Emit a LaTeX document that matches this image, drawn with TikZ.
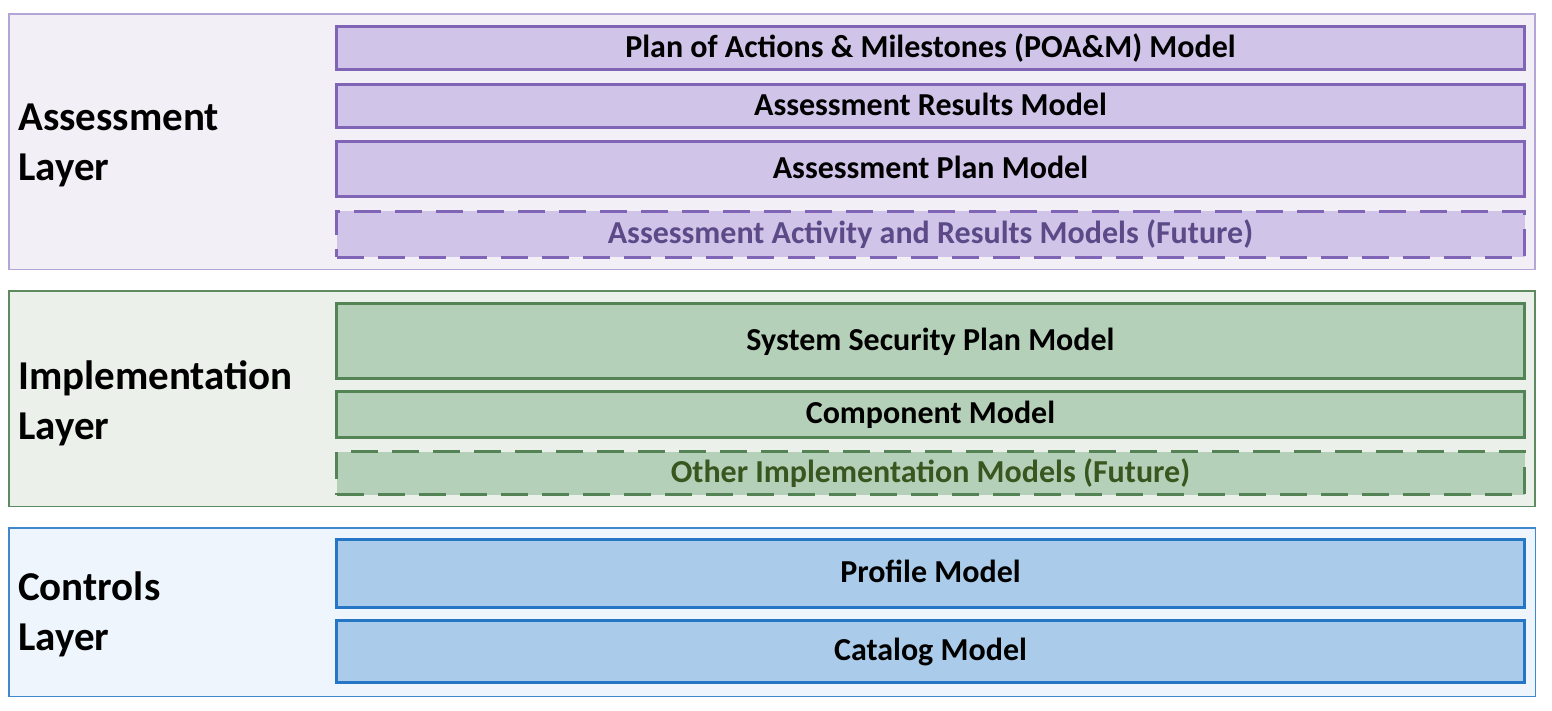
\documentclass[tikz,border=0pt]{standalone}
\usepackage{fontspec}
\setmainfont{Carlito}
\begin{document}
\definecolor{asmBg}{HTML}{F3EFF7}
\definecolor{asmLine}{HTML}{B3A6D6}
\definecolor{asmFill}{HTML}{D0C4E8}
\definecolor{asmDraw}{HTML}{8064B6}
\definecolor{asmFut}{HTML}{5C4A88}
\definecolor{impBg}{HTML}{EBF1EA}
\definecolor{impLine}{HTML}{5E8A62}
\definecolor{impFill}{HTML}{B5D0B8}
\definecolor{impDraw}{HTML}{548356}
\definecolor{impFut}{HTML}{38561F}
\definecolor{ctlBg}{HTML}{EEF5FC}
\definecolor{ctlLine}{HTML}{3F88CC}
\definecolor{ctlFill}{HTML}{AACCEA}
\definecolor{ctlDraw}{HTML}{2676C6}
\begin{tikzpicture}[x=1pt,y=-1pt,
  layerbox/.style={line width=1.5pt},
  modelbox/.style={line width=3pt, font=\bfseries\fontsize{32}{36}\selectfont,
    text height=22pt, text depth=4pt},
  futurebox/.style={modelbox, dash pattern=on 27pt off 14pt},
  layerlabel/.style={anchor=west, align=left, inner sep=0pt,
    font=\bfseries\fontsize{41}{50}\selectfont}]
\useasboundingbox (0,0) rectangle (1552,710);

% layer frames
\draw[layerbox, draw=asmLine, fill=asmBg] (8.75,13.75) rectangle (1534.75,269.25);
\draw[layerbox, draw=impLine, fill=impBg] (8.75,290.75) rectangle (1534.75,506.25);
\draw[layerbox, draw=ctlLine, fill=ctlBg] (8.75,527.75) rectangle (1535.25,696.25);

% layer titles
\node[layerlabel] (asmT) at (18,145) {Assessment\\Layer};
\node[layerlabel] (impT) at (18,403) {Implementation\\Layer};
\node[layerlabel] (ctlT) at (18,614) {Controls\\Layer};

% assessment models
\node[modelbox, draw=asmDraw, fill=asmFill, minimum width=1188pt, minimum height=43pt]
  (poam) at (930.5,48) {Plan of Actions \& Milestones (POA\&M) Model};
\node[modelbox, draw=asmDraw, fill=asmFill, minimum width=1188pt, minimum height=43pt]
  (ar) at (930.5,106) {Assessment Results Model};
\node[modelbox, draw=asmDraw, fill=asmFill, minimum width=1188pt, minimum height=55pt]
  (ap) at (930.5,169) {Assessment Plan Model};
\node[futurebox, draw=asmDraw, fill=asmFill, text=asmFut, minimum width=1188pt, minimum height=46pt]
  (aar) at (930.5,234) {Assessment Activity and Results Models (Future)};

% implementation models
\node[modelbox, draw=impDraw, fill=impFill, minimum width=1188pt, minimum height=75pt]
  (ssp) at (930.5,341) {System Security Plan Model};
\node[modelbox, draw=impDraw, fill=impFill, minimum width=1188pt, minimum height=46pt]
  (comp) at (930.5,414.5) {Component Model};
\node[futurebox, draw=impDraw, fill=impFill, text=impFut, minimum width=1188pt, minimum height=43pt]
  (oim) at (930.5,473) {Other Implementation Models (Future)};

% controls models
\node[modelbox, draw=ctlDraw, fill=ctlFill, minimum width=1188pt, minimum height=68pt]
  (prof) at (930.5,573.5) {Profile Model};
\node[modelbox, draw=ctlDraw, fill=ctlFill, minimum width=1188pt, minimum height=62pt]
  (cat) at (930.5,651.5) {Catalog Model};
\end{tikzpicture}
\end{document}
